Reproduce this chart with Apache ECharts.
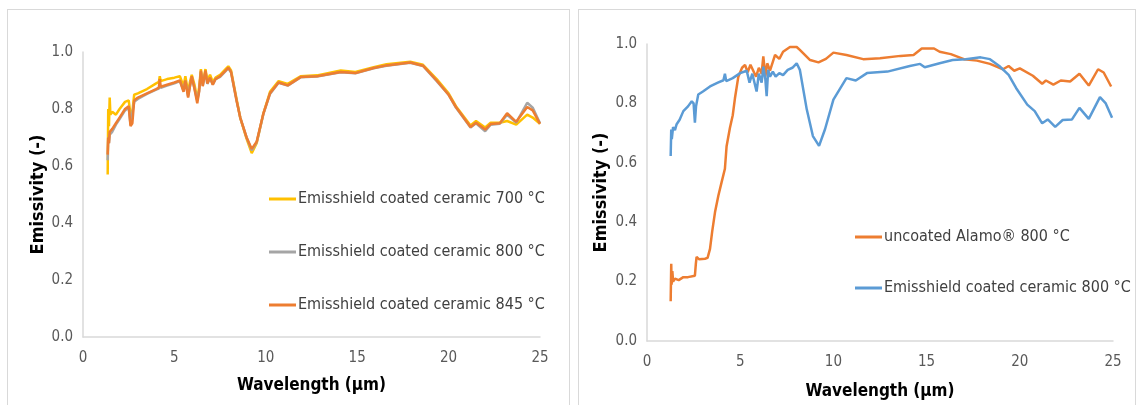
<!DOCTYPE html>
<html>
<head>
<meta charset="utf-8">
<script src="https://cdn.jsdelivr.net/npm/echarts@6/dist/echarts.min.js"></script>
<style>
  html, body { margin: 0; padding: 0; background: #fff; }
  body { width: 1138px; height: 405px; position: relative; overflow: hidden; }
  .frame { position: absolute; border: 1px solid #d9d9d9; box-sizing: border-box; }
  .chart { position: absolute; top: 0; height: 405px; }
</style>
</head>
<body>
<div class="frame" style="left:7px;top:9px;width:563px;height:420px"></div>
<div class="frame" style="left:578px;top:9px;width:558px;height:420px"></div>
<div id="left" class="chart" style="left:0;width:570px"></div>
<div id="right" class="chart" style="left:570px;width:568px"></div>
<script>
// 左图：三个温度下的 Emisshield 涂层
const leftWavelength = [1.35, 1.38, 1.42, 1.46, 1.5, 1.6, 1.8, 2.0, 2.3, 2.5, 2.6, 2.7, 2.8, 3.0, 3.5, 4.0, 4.15, 4.2, 4.25, 4.6,
  5.0, 5.3, 5.5, 5.6, 5.75, 5.85, 5.95, 6.1, 6.25, 6.35, 6.45, 6.55, 6.7, 6.8, 6.95, 7.1, 7.25, 7.5, 7.8, 7.95,
  8.1, 8.4, 8.6, 8.95, 9.23, 9.5, 9.87, 10.23, 10.7, 11.2, 11.9, 12.8, 14.1, 14.9, 15.9, 16.6, 17.9, 18.6, 19.35, 20.0,
  20.4, 21.2, 21.5, 22.0, 22.3, 22.8, 23.2, 23.7, 24.3, 24.6, 25.0]
const coated700 = [0.57, 0.80, 0.74, 0.84, 0.78, 0.79, 0.78, 0.80, 0.825, 0.83, 0.78, 0.79, 0.85, 0.855, 0.87, 0.89, 0.895, 0.915, 0.898, 0.905,
  0.91, 0.915, 0.88, 0.915, 0.86, 0.895, 0.92, 0.885, 0.835, 0.875, 0.94, 0.89, 0.94, 0.90, 0.92, 0.895, 0.91, 0.92, 0.94, 0.95,
  0.935, 0.835, 0.77, 0.695, 0.645, 0.68, 0.785, 0.86, 0.898, 0.888, 0.915, 0.918, 0.935, 0.93, 0.947, 0.957, 0.966, 0.955, 0.905, 0.855,
  0.81, 0.742, 0.758, 0.735, 0.752, 0.752, 0.758, 0.745, 0.78, 0.77, 0.748]
const coated800 = [0.62, 0.70, 0.68, 0.71, 0.71, 0.72, 0.745, 0.765, 0.795, 0.805, 0.745, 0.75, 0.825, 0.835, 0.853, 0.868, 0.872, 0.89, 0.874, 0.882,
  0.89, 0.898, 0.865, 0.898, 0.845, 0.88, 0.91, 0.872, 0.83, 0.862, 0.93, 0.882, 0.93, 0.888, 0.908, 0.886, 0.905, 0.913, 0.933, 0.943,
  0.928, 0.83, 0.77, 0.70, 0.655, 0.683, 0.783, 0.853, 0.892, 0.882, 0.911, 0.914, 0.929, 0.925, 0.943, 0.952, 0.962, 0.951, 0.898, 0.85,
  0.805, 0.735, 0.75, 0.722, 0.745, 0.748, 0.78, 0.752, 0.822, 0.805, 0.75]
const coated845 = [0.64, 0.70, 0.68, 0.72, 0.72, 0.73, 0.75, 0.77, 0.80, 0.81, 0.74, 0.75, 0.83, 0.84, 0.855, 0.87, 0.875, 0.905, 0.878, 0.885,
  0.893, 0.90, 0.86, 0.90, 0.84, 0.88, 0.915, 0.87, 0.82, 0.86, 0.935, 0.88, 0.935, 0.89, 0.91, 0.885, 0.905, 0.915, 0.935, 0.945,
  0.93, 0.83, 0.77, 0.70, 0.66, 0.685, 0.785, 0.855, 0.893, 0.883, 0.912, 0.915, 0.93, 0.926, 0.944, 0.953, 0.963, 0.952, 0.90, 0.85,
  0.807, 0.737, 0.752, 0.728, 0.747, 0.75, 0.785, 0.755, 0.807, 0.795, 0.748]

// 右图：未涂层 Alamo 与涂层对比
const alamoWavelength = [1.27, 1.3, 1.32, 1.36, 1.4, 1.5, 1.7, 1.95, 2.2, 2.57, 2.62, 2.66, 2.8, 3.11, 3.25, 3.38, 3.5, 3.65, 3.83, 4.0,
  4.18, 4.27, 4.45, 4.6, 4.72, 4.9, 5.1, 5.26, 5.4, 5.55, 5.7, 5.85, 6.0, 6.15, 6.24, 6.35, 6.45, 6.6, 6.87, 7.1,
  7.3, 7.67, 8.03, 8.2, 8.75, 9.2, 9.6, 10.0, 10.7, 11.6, 12.5, 13.6, 14.3, 14.74, 15.4, 15.7, 16.3, 17.0, 17.7, 18.4,
  19.1, 19.4, 19.7, 20.0, 20.7, 21.2, 21.4, 21.8, 22.2, 22.7, 23.2, 23.7, 24.2, 24.5, 24.9]
const alamo800 = [0.134, 0.26, 0.19, 0.235, 0.20, 0.21, 0.205, 0.215, 0.215, 0.22, 0.26, 0.283, 0.275, 0.277, 0.28, 0.31, 0.37, 0.434, 0.49, 0.534,
  0.58, 0.656, 0.718, 0.76, 0.818, 0.89, 0.92, 0.93, 0.905, 0.93, 0.91, 0.89, 0.92, 0.90, 0.958, 0.89, 0.935, 0.91, 0.963, 0.95,
  0.974, 0.99, 0.99, 0.98, 0.946, 0.938, 0.95, 0.971, 0.963, 0.949, 0.952, 0.96, 0.963, 0.985, 0.985, 0.974, 0.966, 0.949, 0.944, 0.933,
  0.915, 0.926, 0.91, 0.918, 0.893, 0.866, 0.877, 0.863, 0.877, 0.874, 0.90, 0.86, 0.915, 0.904, 0.857]
const coatedWavelength = [1.27, 1.3, 1.33, 1.4, 1.5, 1.59, 1.75, 1.95, 2.2, 2.4, 2.5, 2.57, 2.63, 2.75, 3.0, 3.38, 3.8, 4.1, 4.18, 4.25,
  4.6, 5.0, 5.35, 5.5, 5.65, 5.88, 6.0, 6.15, 6.24, 6.35, 6.42, 6.5, 6.6, 6.75, 6.9, 7.1, 7.3, 7.55, 7.8, 8.03,
  8.2, 8.57, 8.9, 9.23, 9.55, 10.0, 10.7, 11.2, 11.8, 12.9, 14.1, 14.65, 14.9, 15.7, 16.4, 17.1, 17.9, 18.4, 18.9, 19.4,
  19.8, 20.4, 20.8, 21.2, 21.5, 21.9, 22.3, 22.8, 23.2, 23.7, 24.3, 24.6, 24.95]
const coatedRight800 = [0.623, 0.712, 0.68, 0.72, 0.71, 0.73, 0.745, 0.774, 0.79, 0.807, 0.80, 0.735, 0.79, 0.83, 0.84, 0.857, 0.87, 0.878, 0.90, 0.875,
  0.885, 0.902, 0.91, 0.87, 0.90, 0.84, 0.90, 0.87, 0.924, 0.88, 0.824, 0.913, 0.89, 0.907, 0.89, 0.902, 0.895, 0.913, 0.92, 0.935,
  0.913, 0.78, 0.69, 0.657, 0.713, 0.813, 0.885, 0.877, 0.902, 0.907, 0.926, 0.933, 0.922, 0.935, 0.946, 0.949, 0.955, 0.949, 0.926, 0.896,
  0.852, 0.796, 0.774, 0.733, 0.746, 0.721, 0.744, 0.746, 0.785, 0.748, 0.821, 0.801, 0.752]

const xTicks = { min: 0, max: 25, interval: 5 }
const yTicks = { min: 0, max: 1, interval: 0.2 }

const FONT = '"DejaVu Sans Condensed", "Liberation Sans Narrow", "DejaVu Sans", sans-serif'

const pairs = (xs, ys) => xs.map((x, i) => [x, ys[i]])

const lineSeries = (name, xs, ys, color) => ({
  name,
  type: 'line',
  data: pairs(xs, ys),
  showSymbol: false,
  smooth: false,
  lineStyle: { color, width: 2.5 },
  itemStyle: { color },
  z: 2
})

const axes = (gapX, gapY) => ({
  xAxis: {
    type: 'value', ...xTicks,
    name: 'Wavelength (µm)', nameLocation: 'middle', nameGap: gapX, nameMoveOverlap: false,
    nameTextStyle: { fontFamily: FONT, fontSize: 17, fontWeight: 'bold', color: '#000' },
    axisLine: { show: true, lineStyle: { color: '#d9d9d9', width: 1.5 } },
    axisTick: { show: false },
    splitLine: { show: false },
    axisLabel: { fontFamily: FONT, fontSize: 15, color: '#595959', margin: 14 }
  },
  yAxis: {
    type: 'value', ...yTicks,
    name: 'Emissivity (-)', nameLocation: 'middle', nameGap: gapY, nameMoveOverlap: false,
    nameTextStyle: { fontFamily: FONT, fontSize: 18, fontWeight: 'bold', color: '#000' },
    axisLine: { show: true, lineStyle: { color: '#d9d9d9', width: 1.5 } },
    axisTick: { show: false },
    splitLine: { show: false },
    axisLabel: { fontFamily: FONT, fontSize: 15, color: '#595959', margin: 10, formatter: v => v.toFixed(1) }
  }
})

const legendBase = {
  orient: 'vertical',
  itemWidth: 27,
  itemHeight: 3,
  icon: 'rect',
  textStyle: { fontFamily: FONT, fontSize: 16, color: '#404040', padding: [0, 0, 0, -3] }
}

const leftChart = echarts.init(document.getElementById('left'))
leftChart.setOption({
  animation: false,
  grid: { left: 83, right: 30, top: 52, bottom: 68 },
  ...axes(40, 36),
  legend: { ...legendBase, left: 264, top: 186, itemGap: 37 },
  series: [
    lineSeries('Emisshield coated ceramic 700 °C', leftWavelength, coated700, '#FFC000'),
    lineSeries('Emisshield coated ceramic 800 °C', leftWavelength, coated800, '#A5A5A5'),
    lineSeries('Emisshield coated ceramic 845 °C', leftWavelength, coated845, '#ED7D31')
  ]
})

const rightChart = echarts.init(document.getElementById('right'))
rightChart.setOption({
  animation: false,
  grid: { left: 77, right: 25, top: 44, bottom: 62 },
  ...axes(42, 37),
  legend: { ...legendBase, left: 280, top: 224, itemGap: 35 },
  series: [
    lineSeries('uncoated Alamo® 800 °C', alamoWavelength, alamo800, '#ED7D31'),
    lineSeries('Emisshield coated ceramic 800 °C', coatedWavelength, coatedRight800, '#5B9BD5')
  ]
})
</script>
</body>
</html>
